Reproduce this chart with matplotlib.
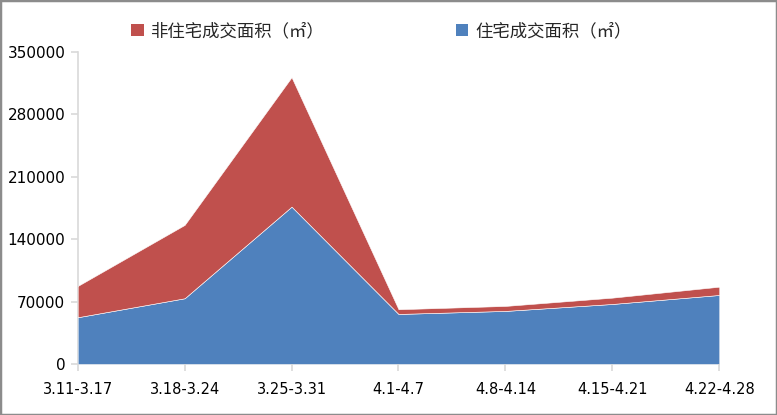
'''Weekly transaction area, stacked area chart'''

import matplotlib
matplotlib.use('Agg')
import matplotlib.pyplot as plt
from matplotlib.patches import Patch, Rectangle

# data
weeks = ['3.11-3.17', '3.18-3.24', '3.25-3.31', '4.1-4.7', '4.8-4.14', '4.15-4.21', '4.22-4.28']
residential = [52400, 73700, 176500, 56100, 59500, 67300, 77400]
total = [87500, 156000, 321700, 61400, 65100, 74400, 86700]
non_residential = [t - r for t, r in zip(total, residential)]
yticks = [0, 70000, 140000, 210000, 280000, 350000]

BLUE = '#4F81BD'
RED = '#C0504D'
GRID = '#D9D9D9'

fig = plt.figure(figsize=(7.77, 4.15), dpi=100)
ax = fig.add_axes([0.1, 0.123, 0.8257, 0.7517])

x = range(len(weeks))
ax.stackplot(x, residential, non_residential, colors=[BLUE, RED],
             edgecolor='white', linewidth=0.4)

ax.set_xlim(0, len(weeks) - 1)
ax.set_ylim(0, 350000)
ax.set_xticks(list(x))
ax.set_xticklabels(weeks, fontsize=10.5)
ax.set_yticks(yticks)
ax.set_yticklabels([str(v) for v in yticks], fontsize=11)

for side in ['top', 'right']:
    ax.spines[side].set_visible(False)
for side in ['left', 'bottom']:
    ax.spines[side].set_color(GRID)
    ax.spines[side].set_linewidth(1.2)
    ax.spines[side].set_zorder(0)
ax.tick_params(axis='both', color=GRID, length=5, width=1.2, labelcolor='black')
ax.tick_params(axis='x', pad=8)
ax.tick_params(axis='y', pad=4)

cjk = ['Noto Sans CJK SC', 'DejaVu Sans']
handles = [Patch(facecolor=RED, label='非住宅成交面积（㎡）'),
           Patch(facecolor=BLUE, label='住宅成交面积（㎡）')]
fig.legend(handles=handles, loc='center', bbox_to_anchor=(0.491, 0.925), ncol=2,
           frameon=False, prop={'family': cjk, 'size': 12.5}, labelcolor='#262626',
           handlelength=0.7, handleheight=0.65, handletextpad=0.4, columnspacing=7.6)

fig.patches.append(Rectangle((0, 0), 1, 1, transform=fig.transFigure,
                             fill=False, edgecolor='#8C8C8C', linewidth=2.5))

fig.savefig('out.png', dpi=100)
